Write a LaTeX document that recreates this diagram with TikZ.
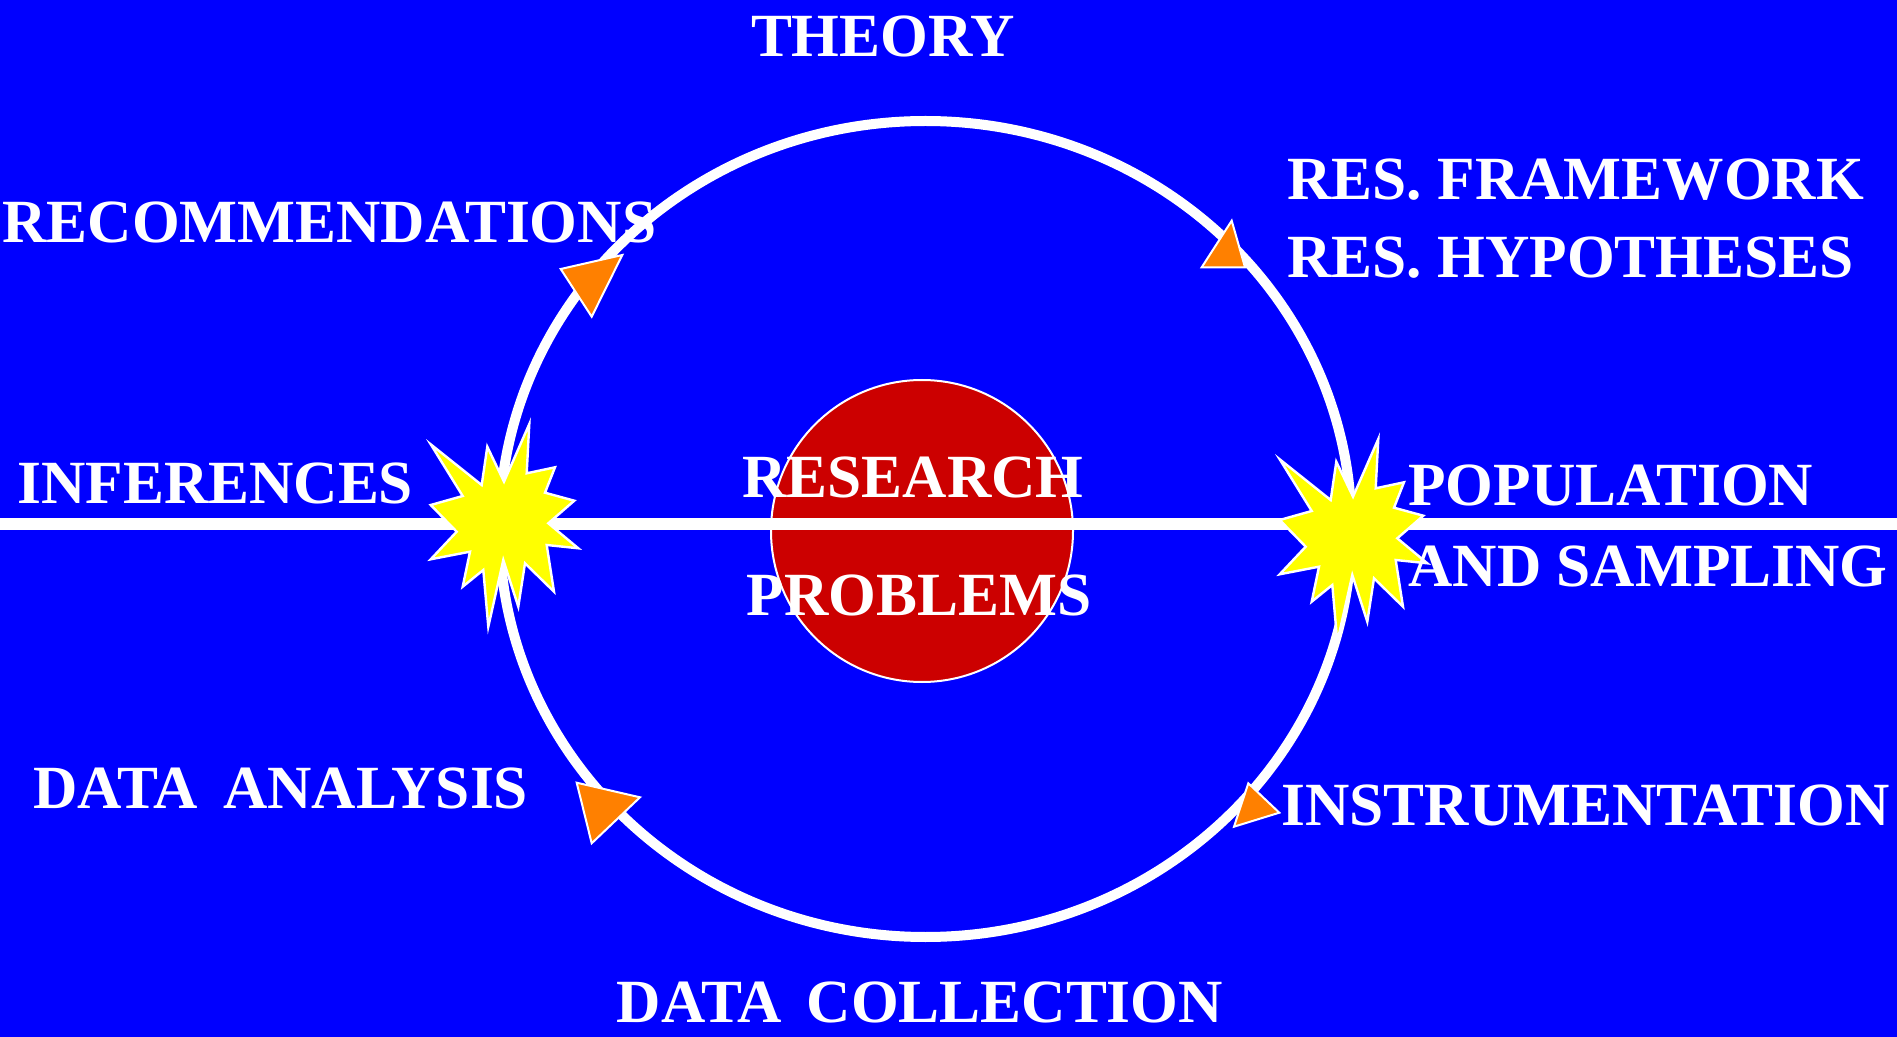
\documentclass[tikz,border=0pt]{standalone}
\usepackage{fontspec}
\setmainfont{Liberation Serif}
\definecolor{bgblue}{HTML}{0000FF}
\definecolor{probred}{HTML}{CC0000}
\definecolor{tiporange}{HTML}{FF8000}
\definecolor{boomyellow}{HTML}{FFFF00}
\tikzset{
    lbl/.style={text=white,font=\fontsize{30.7}{33}\selectfont\bfseries,inner sep=0pt},
    tiptri/.style={fill=tiporange,draw=white,line width=1pt,line join=miter},
    boom/.style={fill=boomyellow,draw=white,line width=1.2pt,line join=miter},
}
\newcommand{\boomstar}[1]{%
    \draw[boom,shift={(#1)}] (-73.3,-80.7) -- (-22.3,-40) -- (-16.7,-78.3) -- (0,-43.3)
        -- (25.3,-101) -- (22.7,-51.7) -- (51,-57.7) -- (41,-32.3) -- (70.3,-24.3)
        -- (44.3,-1.7) -- (74.3,23.3) -- (42.7,20) -- (50,66.7) -- (21,38.3)
        -- (14.3,81.7) -- (-0.7,35) -- (-15.7,101.7) -- (-20.7,45) -- (-41.3,61.7)
        -- (-34,26.7) -- (-73.3,34.3) -- (-47.3,6.7) -- (-73.3,-20) -- (-41.3,-29) -- cycle;}
\begin{document}
\begin{tikzpicture}[x=0.5pt,y=-0.5pt]
    \useasboundingbox (0,0) rectangle (1897,1037);
    \fill[bgblue] (-5,-5) rectangle (1902,1042);
    \coordinate (cen) at (925.5,529);
    \coordinate (inf) at (504,525);
    \coordinate (pop) at (1353,540);
            \draw[white,fill=probred,line width=1pt] (922,531) circle [radius=75.5pt];
            \draw[white,line width=6pt] (-5,524.5) -- (1902,524.5);
            \draw[white,line width=5pt] (cen) ellipse [x radius=213pt, y radius=204pt];
            % arrow heads on the cycle
            \draw[tiptri] (560.7,269) -- (622.3,255) -- (591.7,316.7) -- cycle;
            \draw[tiptri] (1231.7,220.7) -- (1245,267.3) -- (1201.7,267.3) -- cycle;
            \draw[tiptri] (576.7,782.7) -- (640,797.3) -- (591.7,843.3) -- cycle;
            \draw[tiptri] (1248.3,783.3) -- (1279.3,812.7) -- (1234,826.7) -- cycle;
            \boomstar{inf}
            \boomstar{pop}
            \node[lbl,anchor=base] (theory) at (883,57) {THEORY};
            \node[lbl,anchor=base west] (recom) at (2,243) {RECOMMENDATIONS};
            \node[lbl,anchor=base west] (frame) at (1287,200) {RES. FRAMEWORK};
            \node[lbl,anchor=base west] (hypo) at (1287,278) {RES. HYPOTHESES};
            \node[lbl,anchor=base west] (infer) at (17,504) {INFERENCES};
            \node[lbl,anchor=base] (research) at (913,498) {RESEARCH};
            \node[lbl,anchor=base] (problems) at (919,616) {PROBLEMS};
            \node[lbl,anchor=base west] (popul) at (1408,506) {POPULATION};
            \node[lbl,anchor=base west] (sampl) at (1408,587) {AND SAMPLING};
            \node[lbl,anchor=base west] (analysis) at (33,808) {DATA\hspace{12.5pt}ANALYSIS};
            \node[lbl,anchor=base west] (instr) at (1281,825) {INSTRUMENTATION};
            \node[lbl,anchor=base] (collect) at (920,1022) {DATA\hspace{12.5pt}COLLECTION};
            %\node[lbl] at (925,529) {};
\end{tikzpicture}
\end{document}
